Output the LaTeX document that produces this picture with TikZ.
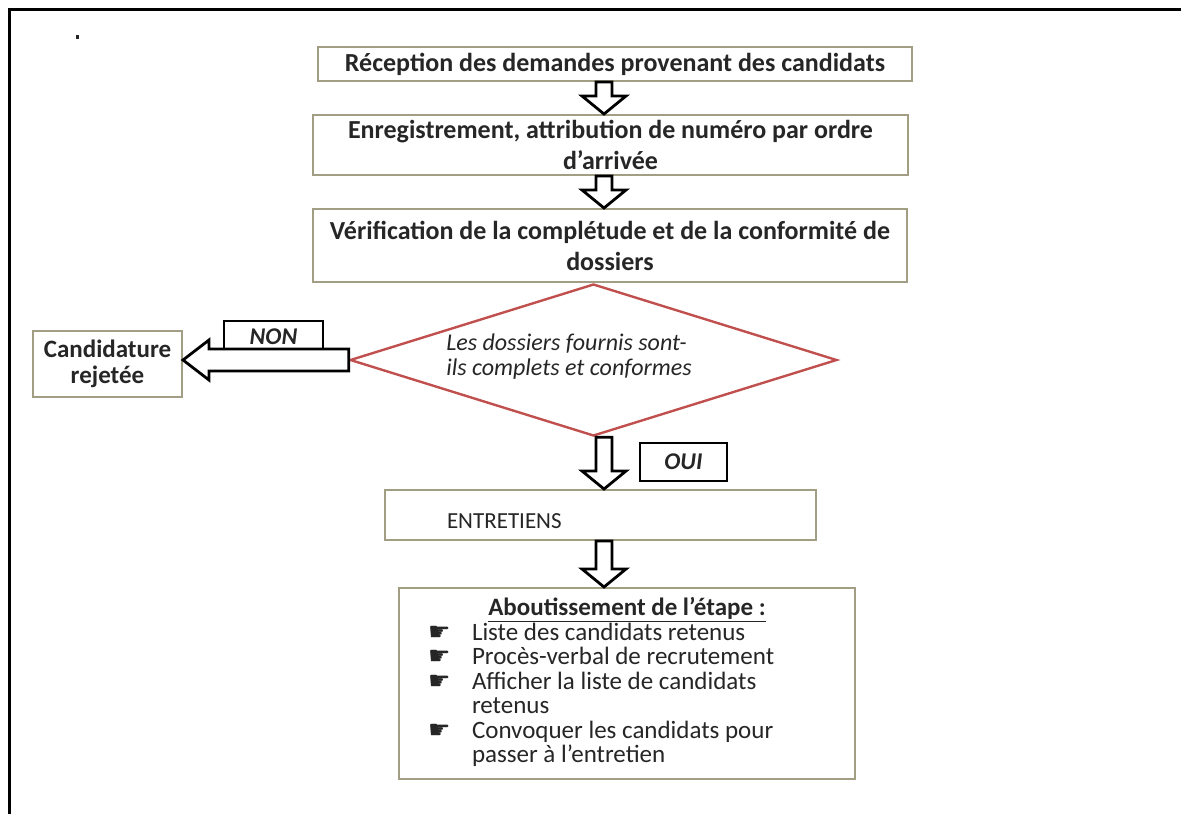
\documentclass[tikz,border=0pt]{standalone}
\usepackage{fontspec}
\setmainfont{Carlito}
\newfontfamily\symbfont{DejaVu Sans}
\usepackage{xcolor}
\usetikzlibrary{calc,shapes.geometric}
\definecolor{boxline}{HTML}{A29E84}
\definecolor{decision}{HTML}{C0504D}
\definecolor{ink}{HTML}{262626}

\newcommand\hand{{\symbfont ☛}}
% block arrows: shaft from the first point, tip on the second
\newcommand\hollowdown[2]{%
  \draw[hollow] let \p1=(#1), \p2=(#2) in
    (\x1-4pt,\y1) -- (\x1-4pt,\y2+9pt) -- (\x1-11pt,\y2+9pt) -- (\x1,\y2)
    -- (\x1+11pt,\y2+9pt) -- (\x1+4pt,\y2+9pt) -- (\x1+4pt,\y1) -- cycle;}
\newcommand\hollowleft[2]{%
  \draw[hollow] let \p1=(#1), \p2=(#2) in
    (\x1,\y1+5.5pt) -- (\x2+13pt,\y1+5.5pt) -- (\x2+13pt,\y1+10pt) -- (\x2,\y1)
    -- (\x2+13pt,\y1-10pt) -- (\x2+13pt,\y1-5.5pt) -- (\x1,\y1-5.5pt) -- cycle;}

\tikzset{
  stepbox/.style={draw=boxline,line width=1pt,fill=white,align=center,text=ink,
    font=\fontsize{13}{15.5}\selectfont\bfseries,inner sep=2pt},
  choice/.style={draw=black,line width=1pt,fill=white,text=ink,
    font=\fontsize{12}{14}\selectfont\bfseries\itshape},
  hollow/.style={draw=black,fill=white,line width=1.4pt,line join=miter},
}

\begin{document}
\begin{tikzpicture}[x=0.5pt,y=-0.5pt]
  \useasboundingbox (0,0) rectangle (1181,814);
  \draw[line width=1.5pt] (9,814) -- (9,9) -- (1181,9);
  \fill[ink] (75.5,35) rectangle (79,38.5);

  \node[stepbox,minimum width=297pt,minimum height=17pt] (recep) at (615,64)
    {Réception des demandes provenant des candidats};
  \node[stepbox,minimum width=297.5pt,minimum height=30pt] (enreg) at (610.5,145)
    {Enregistrement, attribution de numéro par ordre\\d’arrivée};
  \node[stepbox,minimum width=297pt,minimum height=36.5pt] (verif) at (610,245.5)
    {Vérification de la complétude et de la conformité de\\dossiers};

  \node[diamond,draw=decision,line width=1.2pt,minimum width=243.5pt,
    minimum height=76pt,inner sep=0pt] (dia) at (593.5,360) {};
  \node[font=\fontsize{12}{12.5}\selectfont\itshape,text=ink,align=left] (quest)
    at (569,357) {Les dossiers fournis sont-\\ils complets et conformes};

  \node[stepbox,minimum width=74.5pt,minimum height=33pt,
    font=\fontsize{12.5}{13}\selectfont\bfseries] (rejet) at (107.5,364)
    {Candidature\\rejetée};
  \node[choice,minimum width=49.5pt,minimum height=15.5pt] (non) at (273.5,336.5) {NON};
  \node[choice,minimum width=43.5pt,minimum height=19pt] (oui) at (683.5,462) {OUI};

  \node[stepbox,font=\fontsize{11.5}{13}\selectfont,minimum height=25pt,text height=14pt,
    text width=153.5pt,inner xsep=31pt,align=left] (entre) at (600.5,515) {ENTRETIENS};

  \node[stepbox,font=\fontsize{12.5}{12}\selectfont,inner xsep=14.5pt,inner ysep=4pt,
    minimum width=228pt,minimum height=95.5pt] (bilan) at (627,683.5) {%
    \begin{tabular}{@{}p{22pt}@{}p{177pt}@{}}
      \multicolumn{2}{@{}c@{}}{\bfseries\underline{Aboutissement de l’étape :}}\\
      \hand & Liste des candidats retenus\\
      \hand & Procès-verbal de recrutement\\
      \hand & Afficher la liste de candidats\\
            & retenus\\
      \hand & Convoquer les candidats pour\\
            & passer à l’entretien\\
    \end{tabular}};

  \coordinate (col) at (604,0);
  \hollowdown{recep.south -| col}{enreg.north -| col}
  \hollowdown{enreg.south -| col}{verif.north -| col}
  \hollowdown{dia.south -| col}{entre.north -| col}
  \hollowdown{entre.south -| col}{bilan.north -| col}
  \hollowleft{dia.west}{rejet.east}
\end{tikzpicture}
\end{document}
